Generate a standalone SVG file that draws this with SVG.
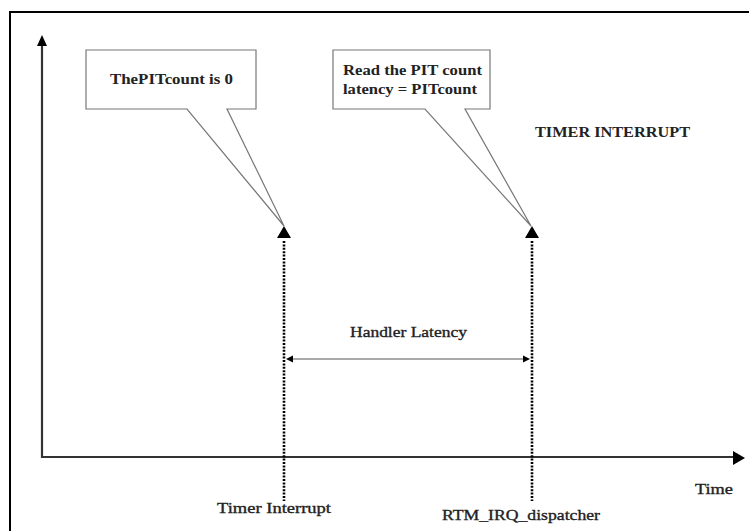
<svg xmlns="http://www.w3.org/2000/svg" width="749" height="531" viewBox="0 0 749 531">
  <style>
    .frame { stroke: #000; stroke-width: 2; fill: none; }
    .axis { stroke: #333; stroke-width: 2.2; fill: none; }
    .callout { stroke: #777; stroke-width: 1.2; fill: #fff; }
    .dotted { stroke: #000; stroke-width: 2.6; stroke-dasharray: 2 1.4; fill: none; }
    .span { stroke: #555; stroke-width: 1.2; fill: none; }
    .head { fill: #000; }
    .note { font-family: "Liberation Serif", "Times New Roman", serif; font-weight: bold; font-size: 14px; fill: #222; }
    .label { font-family: "Liberation Serif", "Times New Roman", serif; font-size: 15px; fill: #222; stroke: #222; stroke-width: 0.35; }
  </style>

  <rect width="749" height="531" fill="#fff"/>

  <!-- outer frame (open to the right and bottom) -->
  <path class="frame" d="M10,531 V12 H749"/>

  <!-- axes -->
  <g id="axes">
    <path class="axis" d="M42,46 V457 H735"/>
    <path class="head" d="M42,35 L37,46 L47,46 Z"/>
    <path class="head" d="M745,458 L733,451 L733,465 Z"/>
    <text class="label" x="695" y="494" textLength="38" lengthAdjust="spacingAndGlyphs">Time</text>
  </g>

  <!-- callout: PIT count zero -->
  <g id="callout-pit-zero">
    <path class="callout" d="M86,50 H256 V109 H227 L284,226 L187,109 H86 Z"/>
    <text class="note" x="110" y="84" textLength="123" lengthAdjust="spacingAndGlyphs">ThePITcount is 0</text>
  </g>

  <!-- callout: read PIT count -->
  <g id="callout-read-pit">
    <path class="callout" d="M333,50 H490 V109 H465 L531,226 L425,109 H333 Z"/>
    <text class="note" x="343" y="75" textLength="139" lengthAdjust="spacingAndGlyphs">Read the PIT count</text>
    <text class="note" x="343" y="94" textLength="134" lengthAdjust="spacingAndGlyphs">latency = PITcount</text>
  </g>

  <!-- title -->
  <g id="title">
    <text class="note" x="535" y="137" textLength="155" lengthAdjust="spacingAndGlyphs">TIMER INTERRUPT</text>
  </g>

  <!-- event: timer interrupt -->
  <g id="event-timer-interrupt">
    <path class="head" d="M284,226 L277,238 L291,238 Z"/>
    <text class="label" x="217" y="513" textLength="114" lengthAdjust="spacingAndGlyphs">Timer Interrupt</text>
  </g>

  <!-- event: dispatcher -->
  <g id="event-dispatcher">
    <path class="head" d="M532,226 L525,238 L539,238 Z"/>
    <text class="label" x="442" y="520" textLength="158" lengthAdjust="spacingAndGlyphs">RTM_IRQ_dispatcher</text>
  </g>

  <!-- connectors -->
  <g id="connectors">
    <line class="dotted" x1="284" y1="241" x2="284" y2="501"/>
    <line class="dotted" x1="532" y1="241" x2="532" y2="501"/>
    <line class="span" x1="291" y1="359" x2="525" y2="359"/>
    <path class="head" d="M286,359 L293,355.5 L293,362.5 Z"/>
    <path class="head" d="M530,359 L523,355.5 L523,362.5 Z"/>
    <text class="label" x="350" y="337" textLength="117" lengthAdjust="spacingAndGlyphs">Handler Latency</text>
  </g>
</svg>
